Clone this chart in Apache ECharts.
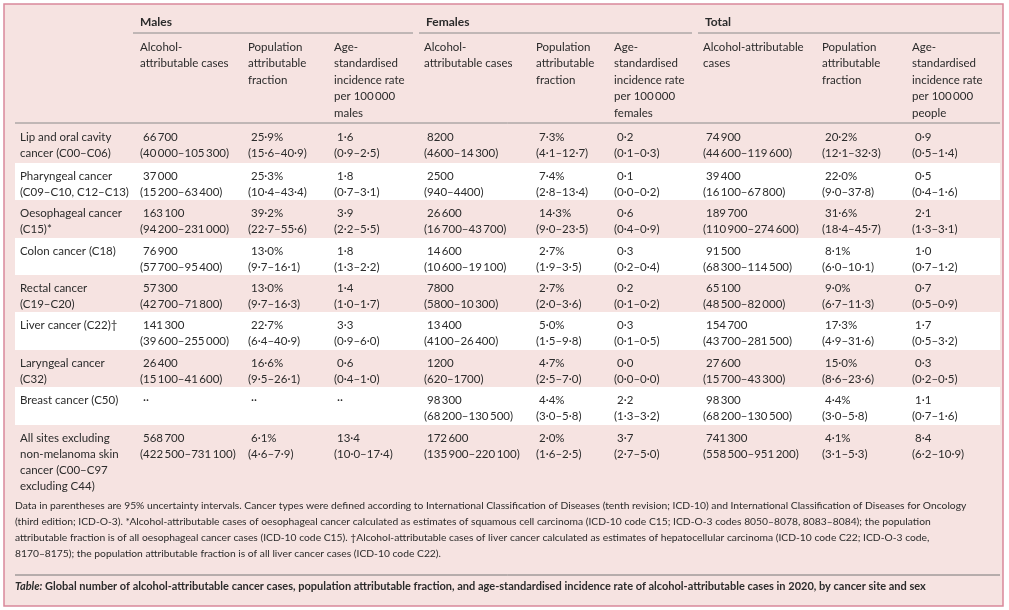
<!DOCTYPE html>
<html><head><meta charset="utf-8">
<script src="https://cdn.jsdelivr.net/npm/echarts@6/dist/echarts.min.js"></script>
<style>html,body{margin:0;background:#fff}#c{width:1009px;height:610px}</style>
</head><body><div id="c"></div>
<script>
// 行标签
var rowLabels = [
  'Lip and oral cavity\ncancer (C00–C06)',
  'Pharyngeal cancer\n(C09–C10, C12–C13)',
  'Oesophageal cancer\n(C15)*',
  'Colon cancer (C18)',
  'Rectal cancer\n(C19–C20)',
  'Liver cancer (C22)†',
  'Laryngeal cancer\n(C32)',
  'Breast cancer (C50)',
  'All sites excluding\nnon-melanoma skin\ncancer (C00–C97\nexcluding C44)'
];
var groups = ['Males', 'Females', 'Total'];
var subHeads = [
  ['Alcohol-\nattributable cases', 'Population\nattributable\nfraction', 'Age-\nstandardised\nincidence rate\nper 100\u2009000\nmales'],
  ['Alcohol-\nattributable cases', 'Population\nattributable\nfraction', 'Age-\nstandardised\nincidence rate\nper 100\u2009000\nfemales'],
  ['Alcohol-attributable\ncases', 'Population\nattributable\nfraction', 'Age-\nstandardised\nincidence rate\nper 100\u2009000\npeople']
];
// 男性
var malesCases = ['66\u2009700\n(40\u2009000–105\u2009300)','37\u2009000\n(15\u2009200–63\u2009400)','163\u2009100\n(94\u2009200–231\u2009000)','76\u2009900\n(57\u2009700–95\u2009400)','57\u2009300\n(42\u2009700–71\u2009800)','141\u2009300\n(39\u2009600–255\u2009000)','26\u2009400\n(15\u2009100–41\u2009600)','··','568\u2009700\n(422\u2009500–731\u2009100)'];
var malesPaf = ['25·9%\n(15·6–40·9)','25·3%\n(10·4–43·4)','39·2%\n(22·7–55·6)','13·0%\n(9·7–16·1)','13·0%\n(9·7–16·3)','22·7%\n(6·4–40·9)','16·6%\n(9·5–26·1)','··','6·1%\n(4·6–7·9)'];
var malesRate = ['1·6\n(0·9–2·5)','1·8\n(0·7–3·1)','3·9\n(2·2–5·5)','1·8\n(1·3–2·2)','1·4\n(1·0–1·7)','3·3\n(0·9–6·0)','0·6\n(0·4–1·0)','··','13·4\n(10·0–17·4)'];
// 女性
var femalesCases = ['8200\n(4600–14\u2009300)','2500\n(940–4400)','26\u2009600\n(16\u2009700–43\u2009700)','14\u2009600\n(10\u2009600–19\u2009100)','7800\n(5800–10\u2009300)','13\u2009400\n(4100–26\u2009400)','1200\n(620–1700)','98\u2009300\n(68\u2009200–130\u2009500)','172\u2009600\n(135\u2009900–220\u2009100)'];
var femalesPaf = ['7·3%\n(4·1–12·7)','7·4%\n(2·8–13·4)','14·3%\n(9·0–23·5)','2·7%\n(1·9–3·5)','2·7%\n(2·0–3·6)','5·0%\n(1·5–9·8)','4·7%\n(2·5–7·0)','4·4%\n(3·0–5·8)','2·0%\n(1·6–2·5)'];
var femalesRate = ['0·2\n(0·1–0·3)','0·1\n(0·0–0·2)','0·6\n(0·4–0·9)','0·3\n(0·2–0·4)','0·2\n(0·1–0·2)','0·3\n(0·1–0·5)','0·0\n(0·0–0·0)','2·2\n(1·3–3·2)','3·7\n(2·7–5·0)'];
// 合计
var totalCases = ['74\u2009900\n(44\u2009600–119\u2009600)','39\u2009400\n(16\u2009100–67\u2009800)','189\u2009700\n(110\u2009900–274\u2009600)','91\u2009500\n(68\u2009300–114\u2009500)','65\u2009100\n(48\u2009500–82\u2009000)','154\u2009700\n(43\u2009700–281\u2009500)','27\u2009600\n(15\u2009700–43\u2009300)','98\u2009300\n(68\u2009200–130\u2009500)','741\u2009300\n(558\u2009500–951\u2009200)'];
var totalPaf = ['20·2%\n(12·1–32·3)','22·0%\n(9·0–37·8)','31·6%\n(18·4–45·7)','8·1%\n(6·0–10·1)','9·0%\n(6·7–11·3)','17·3%\n(4·9–31·6)','15·0%\n(8·6–23·6)','4·4%\n(3·0–5·8)','4·1%\n(3·1–5·3)'];
var totalRate = ['0·9\n(0·5–1·4)','0·5\n(0·4–1·6)','2·1\n(1·3–3·1)','1·0\n(0·7–1·2)','0·7\n(0·5–0·9)','1·7\n(0·5–3·2)','0·3\n(0·2–0·5)','1·1\n(0·7–1·6)','8·4\n(6·2–10·9)'];
var footnote = [
  'Data in parentheses are 95% uncertainty intervals. Cancer types were defined according to International Classification of Diseases (tenth revision; ICD-10) and International Classification of Diseases for Oncology',
  '(third edition; ICD-O-3). *Alcohol-attributable cases of oesophageal cancer calculated as estimates of squamous cell carcinoma (ICD-10 code C15; ICD-O-3 codes 8050–8078, 8083–8084); the population',
  'attributable fraction is of all oesophageal cancer cases (ICD-10 code C15). †Alcohol-attributable cases of liver cancer calculated as estimates of hepatocellular carcinoma (ICD-10 code C22; ICD-O-3 code,',
  '8170–8175); the population attributable fraction is of all liver cancer cases (ICD-10 code C22).'
];
var captionLabel = 'Table:';
var captionText = ' Global number of alcohol-attributable cancer cases, population attributable fraction, and age-standardised incidence rate of alcohol-attributable cases in 2020, by cancer site and sex';

var cols = [malesCases, malesPaf, malesRate, femalesCases, femalesPaf, femalesRate, totalCases, totalPaf, totalRate];
var colX = [140, 248, 334, 424, 536, 614, 703, 822, 912];
var groupX = [[133, 413], [419, 692], [698, 1000]];
var rowTops = [124, 163, 200, 238, 275, 312, 350, 387, 425, 490];
var font = 'Lato, "Open Sans", sans-serif';
var txtColor = '#2b2b2b';

var g = [];
// 背景与边框
g.push({type:'rect', shape:{x:4,y:4,width:999,height:602}, style:{fill:'#f6e3e1', stroke:'#d9889a', lineWidth:1.5}});
for (var r = 0; r < rowLabels.length; r++) {
  if (r % 2 === 1) {
    g.push({type:'rect', shape:{x:15,y:rowTops[r],width:985,height:rowTops[r+1]-rowTops[r]}, style:{fill:'#ffffff'}});
  }
}
function txt(x, y, s, opt) {
  opt = opt || {};
  g.push({type:'text', x:x, y:y, style:{text:s, font:(opt.weight||'normal')+' '+(opt.size||11.5)+'px '+font, fill:opt.color||txtColor, lineHeight:opt.lh||16}});
}
// 分组标题
for (var k = 0; k < groups.length; k++) {
  txt(groupX[k][0] + 7, 14, groups[k], {weight:'bold', size:12});
  g.push({type:'line', shape:{x1:groupX[k][0],y1:33,x2:groupX[k][1],y2:33}, style:{stroke:'#8a8a8a', lineWidth:1}});
  for (var j = 0; j < 3; j++) txt(colX[k*3+j], 39, subHeads[k][j], {lh:16.5});
}
g.push({type:'line', shape:{x1:15,y1:123,x2:1000,y2:123}, style:{stroke:'#8a8a8a', lineWidth:1}});
// 表格内容
for (var r = 0; r < rowLabels.length; r++) {
  var y0 = rowTops[r] + 5;
  txt(20, y0, rowLabels[r]);
  for (var c = 0; c < cols.length; c++) {
    var parts = cols[c][r].split('\n');
    txt(colX[c] + 3, y0, parts[0]);
    if (parts[1]) txt(colX[c], y0 + 16, parts[1]);
  }
}
// 脚注
for (var i = 0; i < footnote.length; i++) txt(15, 498 + i * 16, footnote[i], {size:10.3});
g.push({type:'line', shape:{x1:15,y1:575,x2:1000,y2:575}, style:{stroke:'#777', lineWidth:1}});
g.push({type:'text', x:15, y:581, style:{
  text:'{b|' + captionLabel + '}{a|' + captionText + '}',
  rich:{ b:{font:'italic bold 11px ' + font, fill:txtColor}, a:{font:'bold 11px ' + font, fill:txtColor} }
}});

var myChart = echarts.init(document.getElementById('c'));
myChart.setOption({ animation:false, graphic: g });
</script></body></html>
